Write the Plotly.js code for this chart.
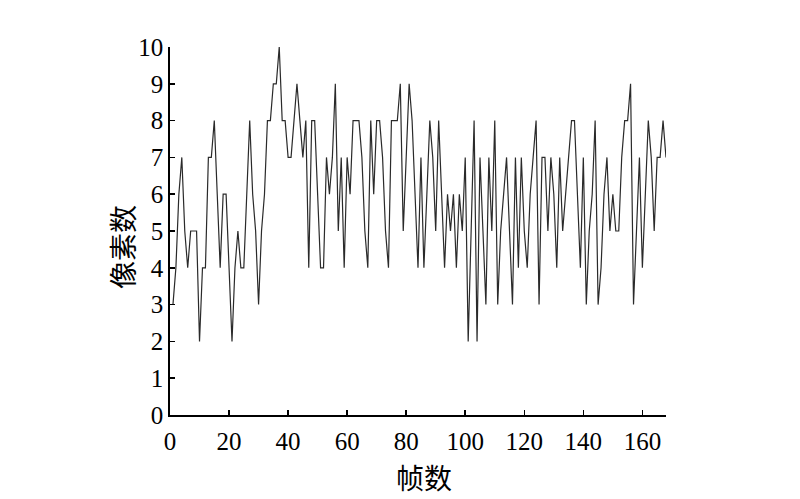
<!DOCTYPE html>
<html>
<head>
<meta charset="utf-8">
<script src="https://cdn.plot.ly/plotly-3.0.1.min.js"></script>
<style>html,body{margin:0;padding:0;background:#fff;}#chart{width:800px;height:499px;}</style>
</head>
<body>
<div id="chart"></div>
<script>
// frame index
const frames = [];
for (let i = 1; i <= 168; i++) frames.push(i);
// pixel counts per frame
const pixels = [
  3,4,6,7,5,4,5,5,5,2,
  4,4,7,7,8,6,4,6,6,4,
  2,4,5,4,4,6,8,6,5,3,
  5,6,8,8,9,9,10,8,8,7,
  7,8,9,8,7,8,4,8,8,6,
  4,4,7,6,7,9,5,7,4,7,
  6,8,8,8,7,5,4,8,6,8,
  8,7,5,4,8,8,8,9,5,7,
  9,8,6,4,7,4,6,8,7,5,
  8,6,4,6,5,6,4,6,5,7,
  2,5,8,2,7,5,3,7,5,8,
  3,5,6,7,5,3,7,4,7,5,
  4,6,7,8,3,7,7,5,7,6,
  4,7,5,6,7,8,8,6,4,7,
  3,5,6,8,3,4,6,7,5,6,
  5,5,7,8,8,9,3,5,7,4,
  6,8,7,5,7,7,8,7
];
const xTickVals = [0,20,40,60,80,100,120,140,160,168];
const xTickText = ['0','20','40','60','80','100','120','140','160',''];
const yTickVals = [0,1,2,3,4,5,6,7,8,9,10];
const xTitle = '帧数';
const yTitle = '像素数';

const trace = {
  x: frames, y: pixels, type: 'scatter', mode: 'lines',
  line: {color: '#2a2a2a', width: 1.2}, hoverinfo: 'skip'
};
const tickFont = {family: '"Liberation Serif", "Times New Roman", serif', size: 25, color: '#000'};
const titleFont = {family: '"Noto Sans CJK SC", sans-serif', size: 28, color: '#000'};
const layout = {
  width: 800, height: 499,
  margin: {l: 170, r: 134, t: 47, b: 84},
  paper_bgcolor: '#fff', plot_bgcolor: '#fff',
  showlegend: false,
  xaxis: {
    range: [0, 168], tickvals: xTickVals, ticktext: xTickText,
    ticks: 'inside', ticklen: 5, tickwidth: 1.5, tickcolor: '#000',
    showline: true, linecolor: '#000', linewidth: 1.8, mirror: false,
    showgrid: false, zeroline: false, tickfont: tickFont,
    ticklabelstandoff: 3
  },
  yaxis: {
    range: [0, 10], tickvals: yTickVals,
    ticks: 'inside', ticklen: 5, tickwidth: 1.5, tickcolor: '#000',
    showline: true, linecolor: '#000', linewidth: 1.8, mirror: false,
    showgrid: false, zeroline: false, tickfont: tickFont
  },
  annotations: [
    {text: xTitle, xref: 'paper', yref: 'paper', x: 0.512, y: -0.168,
     xanchor: 'center', yanchor: 'middle', showarrow: false, font: titleFont},
    {text: yTitle, xref: 'paper', yref: 'paper', x: -0.097, y: 0.456,
     xanchor: 'center', yanchor: 'middle', showarrow: false, textangle: -90, font: titleFont}
  ]
};
Plotly.newPlot('chart', [trace], layout, {staticPlot: true, displayModeBar: false});
</script>
</body>
</html>
